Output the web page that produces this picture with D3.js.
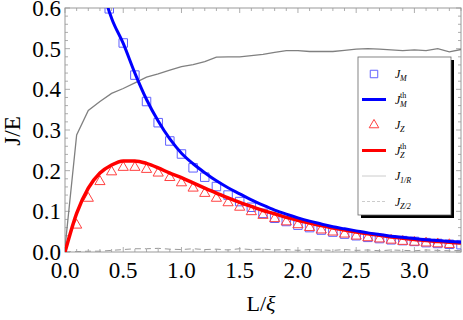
<!DOCTYPE html>
<html>
<head>
<meta charset="utf-8">
<script src="https://d3js.org/d3.v7.min.js"></script>
<style>
  body { margin: 0; background: #fff; }
</style>
</head>
<body>
<div id="chart"></div>
<script>
const W = 463, H = 320;
const margin = {left: 65, right: 2, top: 8, bottom: 68};
const SERIF = "'Liberation Serif', 'Times New Roman', 'DejaVu Serif', serif";

// values
const lineX = d3.range(35).map(i => +(i * 0.1).toFixed(1));
const grayY = [0.01,0.288,0.348,0.37,0.39,0.402,0.416,0.43,0.438,0.447,0.456,0.461,0.468,0.479,0.48,0.48,0.483,0.486,0.491,0.495,0.495,0.493,0.493,0.493,0.496,0.499,0.5,0.499,0.497,0.495,0.497,0.495,0.5,0.492,0.498];
const dashY = [0,0.001,0.002,0.002,0.004,0.006,0.008,0.008,0.009,0.007,0.006,0.008,0.006,0.007,0.005,0.008,0.006,0.007,0.005,0.006,0.004,0.006,0.005,0.004,0.006,0.004,0.005,0.003,0.005,0.004,0.003,0.005,0.004,0.003,0.004];
const redY = [0,0.095,0.157,0.194,0.214,0.224,0.224,0.218,0.207,0.194,0.183,0.17,0.157,0.145,0.133,0.122,0.112,0.102,0.094,0.085,0.078,0.071,0.065,0.059,0.054,0.049,0.045,0.041,0.037,0.034,0.031,0.028,0.026,0.024,0.022];
const blueX = [0.3,0.37,0.4,0.5,0.6,0.7,0.8,0.9,1.0,1.1,1.2,1.3,1.4,1.5,1.6,1.7,1.8,1.9,2.0,2.1,2.2,2.3,2.4,2.5,2.6,2.7,2.8,2.9,3.0,3.1,3.2,3.3,3.4];
const blueY = [0.69,0.6,0.575,0.513,0.44,0.375,0.322,0.278,0.243,0.217,0.195,0.175,0.158,0.143,0.128,0.115,0.103,0.093,0.084,0.076,0.069,0.062,0.057,0.052,0.047,0.043,0.039,0.036,0.033,0.03,0.028,0.026,0.024];
const sqX = [0.38,0.5,0.6,0.7,0.8,0.9,1.0,1.1,1.2,1.3,1.4,1.5,1.6,1.7,1.8,1.9,2.0,2.1,2.2,2.3,2.4,2.5,2.6,2.7,2.8,2.9,3.0,3.1,3.2,3.3,3.4];
const sqY = [0.598,0.514,0.435,0.37,0.318,0.273,0.241,0.207,0.184,0.161,0.14,0.124,0.11,0.095,0.083,0.075,0.066,0.06,0.054,0.049,0.044,0.04,0.036,0.033,0.03,0.028,0.026,0.023,0.021,0.019,0.018];
const triX = [0.1,0.2,0.3,0.4,0.5,0.6,0.7,0.8,0.9,1.0,1.1,1.2,1.3,1.4,1.5,1.6,1.7,1.8,1.9,2.0,2.1,2.2,2.3,2.4,2.5,2.6,2.7,2.8,2.9,3.0,3.1,3.2,3.3];
const triY = [0.066,0.132,0.173,0.197,0.208,0.208,0.203,0.194,0.183,0.17,0.157,0.144,0.132,0.121,0.11,0.099,0.09,0.082,0.074,0.067,0.06,0.054,0.049,0.044,0.039,0.035,0.032,0.029,0.026,0.024,0.022,0.02,0.018];
const xTicks = [0, 0.5, 1.0, 1.5, 2.0, 2.5, 3.0];
const yTicks = [0, 0.1, 0.2, 0.3, 0.4, 0.5, 0.6];

const iw = W - margin.left - margin.right, ih = H - margin.top - margin.bottom;
const x = d3.scaleLinear().domain([0, 3.4]).range([0, iw]);
const y = d3.scaleLinear().domain([0, 0.6]).range([ih, 0]);

const svg = d3.select('#chart').append('svg').attr('width', W).attr('height', H)
  .style('font-family', SERIF);
const g = svg.append('g').attr('transform', 'translate(' + margin.left + ',' + margin.top + ')');

svg.append('defs').append('clipPath').attr('id', 'clip')
  .append('rect').attr('width', iw).attr('height', ih);

// frame ticks (inward, all four sides)
const frameCol = '#999';
const xMinor = d3.range(0, 3.41, 0.1), yMinor = d3.range(0, 0.601, 0.02);
function isMajor(v, step) { return Math.abs(v / step - Math.round(v / step)) < 1e-6; }
const tk = g.append('g').attr('stroke', frameCol).attr('stroke-width', 0.8);
xMinor.forEach(v => {
  const L = isMajor(v, 0.5) ? 5 : 3;
  tk.append('line').attr('x1', x(v)).attr('x2', x(v)).attr('y1', ih).attr('y2', ih - L);
  tk.append('line').attr('x1', x(v)).attr('x2', x(v)).attr('y1', 0).attr('y2', L);
});
yMinor.forEach(v => {
  const L = isMajor(v, 0.1) ? 5 : 3;
  tk.append('line').attr('x1', 0).attr('x2', L).attr('y1', y(v)).attr('y2', y(v));
  tk.append('line').attr('x1', iw).attr('x2', iw - L).attr('y1', y(v)).attr('y2', y(v));
});
g.append('rect').attr('width', iw).attr('height', ih).attr('fill', 'none')
  .attr('stroke', frameCol).attr('stroke-width', 1);

// tick labels
g.selectAll('.xl').data(xTicks).enter().append('text')
  .attr('x', d => x(d)).attr('y', ih + 26).attr('text-anchor', 'middle')
  .attr('font-size', 23).text(d => d.toFixed(1));
g.selectAll('.yl').data(yTicks).enter().append('text')
  .attr('x', -4).attr('y', d => y(d) + 8).attr('text-anchor', 'end')
  .attr('font-size', 23).text(d => d.toFixed(1));

svg.append('text').attr('transform', 'translate(20,' + 131 + ') rotate(-90)')
  .attr('text-anchor', 'middle').attr('font-size', 23).text('J/E');
const xl = svg.append('text').attr('x', 261).attr('y', 311)
  .attr('text-anchor', 'middle').attr('font-size', 22);
xl.append('tspan').text('L/');
xl.append('tspan').attr('font-style', 'italic').text('ξ');

const plot = g.append('g').attr('clip-path', 'url(#clip)');
const line = d3.line().x(d => x(d[0])).y(d => y(d[1]));

plot.append('path').datum(lineX.map((v, i) => [v, dashY[i]])).attr('d', line)
  .attr('fill', 'none').attr('stroke', '#999').attr('stroke-width', 1).attr('stroke-dasharray', '6,4');
plot.append('path').datum(lineX.map((v, i) => [v, grayY[i]])).attr('d', line)
  .attr('fill', 'none').attr('stroke', '#808080').attr('stroke-width', 1.3);

const sym = d3.symbol();
plot.selectAll('.sq').data(sqX.map((v, i) => [v, sqY[i]])).enter().append('path')
  .attr('transform', d => 'translate(' + x(d[0]) + ',' + y(d[1]) + ')')
  .attr('d', sym.type(d3.symbolSquare).size(72)())
  .attr('fill', 'none').attr('stroke', '#6060ff').attr('stroke-width', 1);
plot.selectAll('.tr').data(triX.map((v, i) => [v, triY[i]])).enter().append('path')
  .attr('transform', d => 'translate(' + x(d[0]) + ',' + y(d[1]) + ')')
  .attr('d', d3.symbol().type(d3.symbolTriangle).size(45)())
  .attr('fill', 'none').attr('stroke', '#ff4040').attr('stroke-width', 1);

plot.append('path').datum(lineX.map((v, i) => [v, redY[i]])).attr('d', line.curve(d3.curveMonotoneX))
  .attr('fill', 'none').attr('stroke', '#ff0000').attr('stroke-width', 3.5);
plot.append('path').datum(blueX.map((v, i) => [v, blueY[i]])).attr('d', line.curve(d3.curveMonotoneX))
  .attr('fill', 'none').attr('stroke', '#0000ff').attr('stroke-width', 3);

// legend
const lg = svg.append('g').attr('transform', 'translate(358,57)');
const lw = 93, lh = 158;
lg.append('rect').attr('x', 3).attr('y', 3).attr('width', lw).attr('height', lh).attr('fill', '#000');
lg.append('rect').attr('width', lw).attr('height', lh).attr('fill', '#fff').attr('stroke', '#666').attr('stroke-width', 0.8);
const items = [
  {kind: 'sq', sub: 'M', sup: ''},
  {kind: 'blue', sub: 'M', sup: 'th'},
  {kind: 'tri', sub: 'Z', sup: ''},
  {kind: 'red', sub: 'Z', sup: 'th'},
  {kind: 'gray', sub: '1/R', sup: ''},
  {kind: 'dash', sub: 'Z/2', sup: ''}
];
items.forEach((it, i) => {
  const cy = 17 + i * 25.5;
  const r = lg.append('g').attr('transform', 'translate(0,' + cy + ')');
  if (it.kind === 'sq') r.append('path').attr('transform', 'translate(16,0)').attr('d', d3.symbol().type(d3.symbolSquare).size(56)()).attr('fill', 'none').attr('stroke', '#6060ff');
  if (it.kind === 'tri') r.append('path').attr('transform', 'translate(16,0)').attr('d', d3.symbol().type(d3.symbolTriangle).size(40)()).attr('fill', 'none').attr('stroke', '#ff4040');
  const ls = {blue: ['#0000ff', 3, null], red: ['#ff0000', 3, null], gray: ['#ccc', 1, null], dash: ['#ccc', 1, '3,2']}[it.kind];
  if (ls) r.append('line').attr('x1', 4).attr('x2', 28).attr('stroke', ls[0]).attr('stroke-width', ls[1]).attr('stroke-dasharray', ls[2]);
  r.append('text').attr('x', 37).attr('y', 4).attr('font-size', 12).attr('font-style', 'italic').text('J');
  r.append('text').attr('x', 42).attr('y', 7).attr('font-size', 8).attr('font-style', 'italic').text(it.sub);
  if (it.sup) r.append('text').attr('x', 42).attr('y', -2).attr('font-size', 8).text(it.sup);
});
</script>
</body>
</html>
